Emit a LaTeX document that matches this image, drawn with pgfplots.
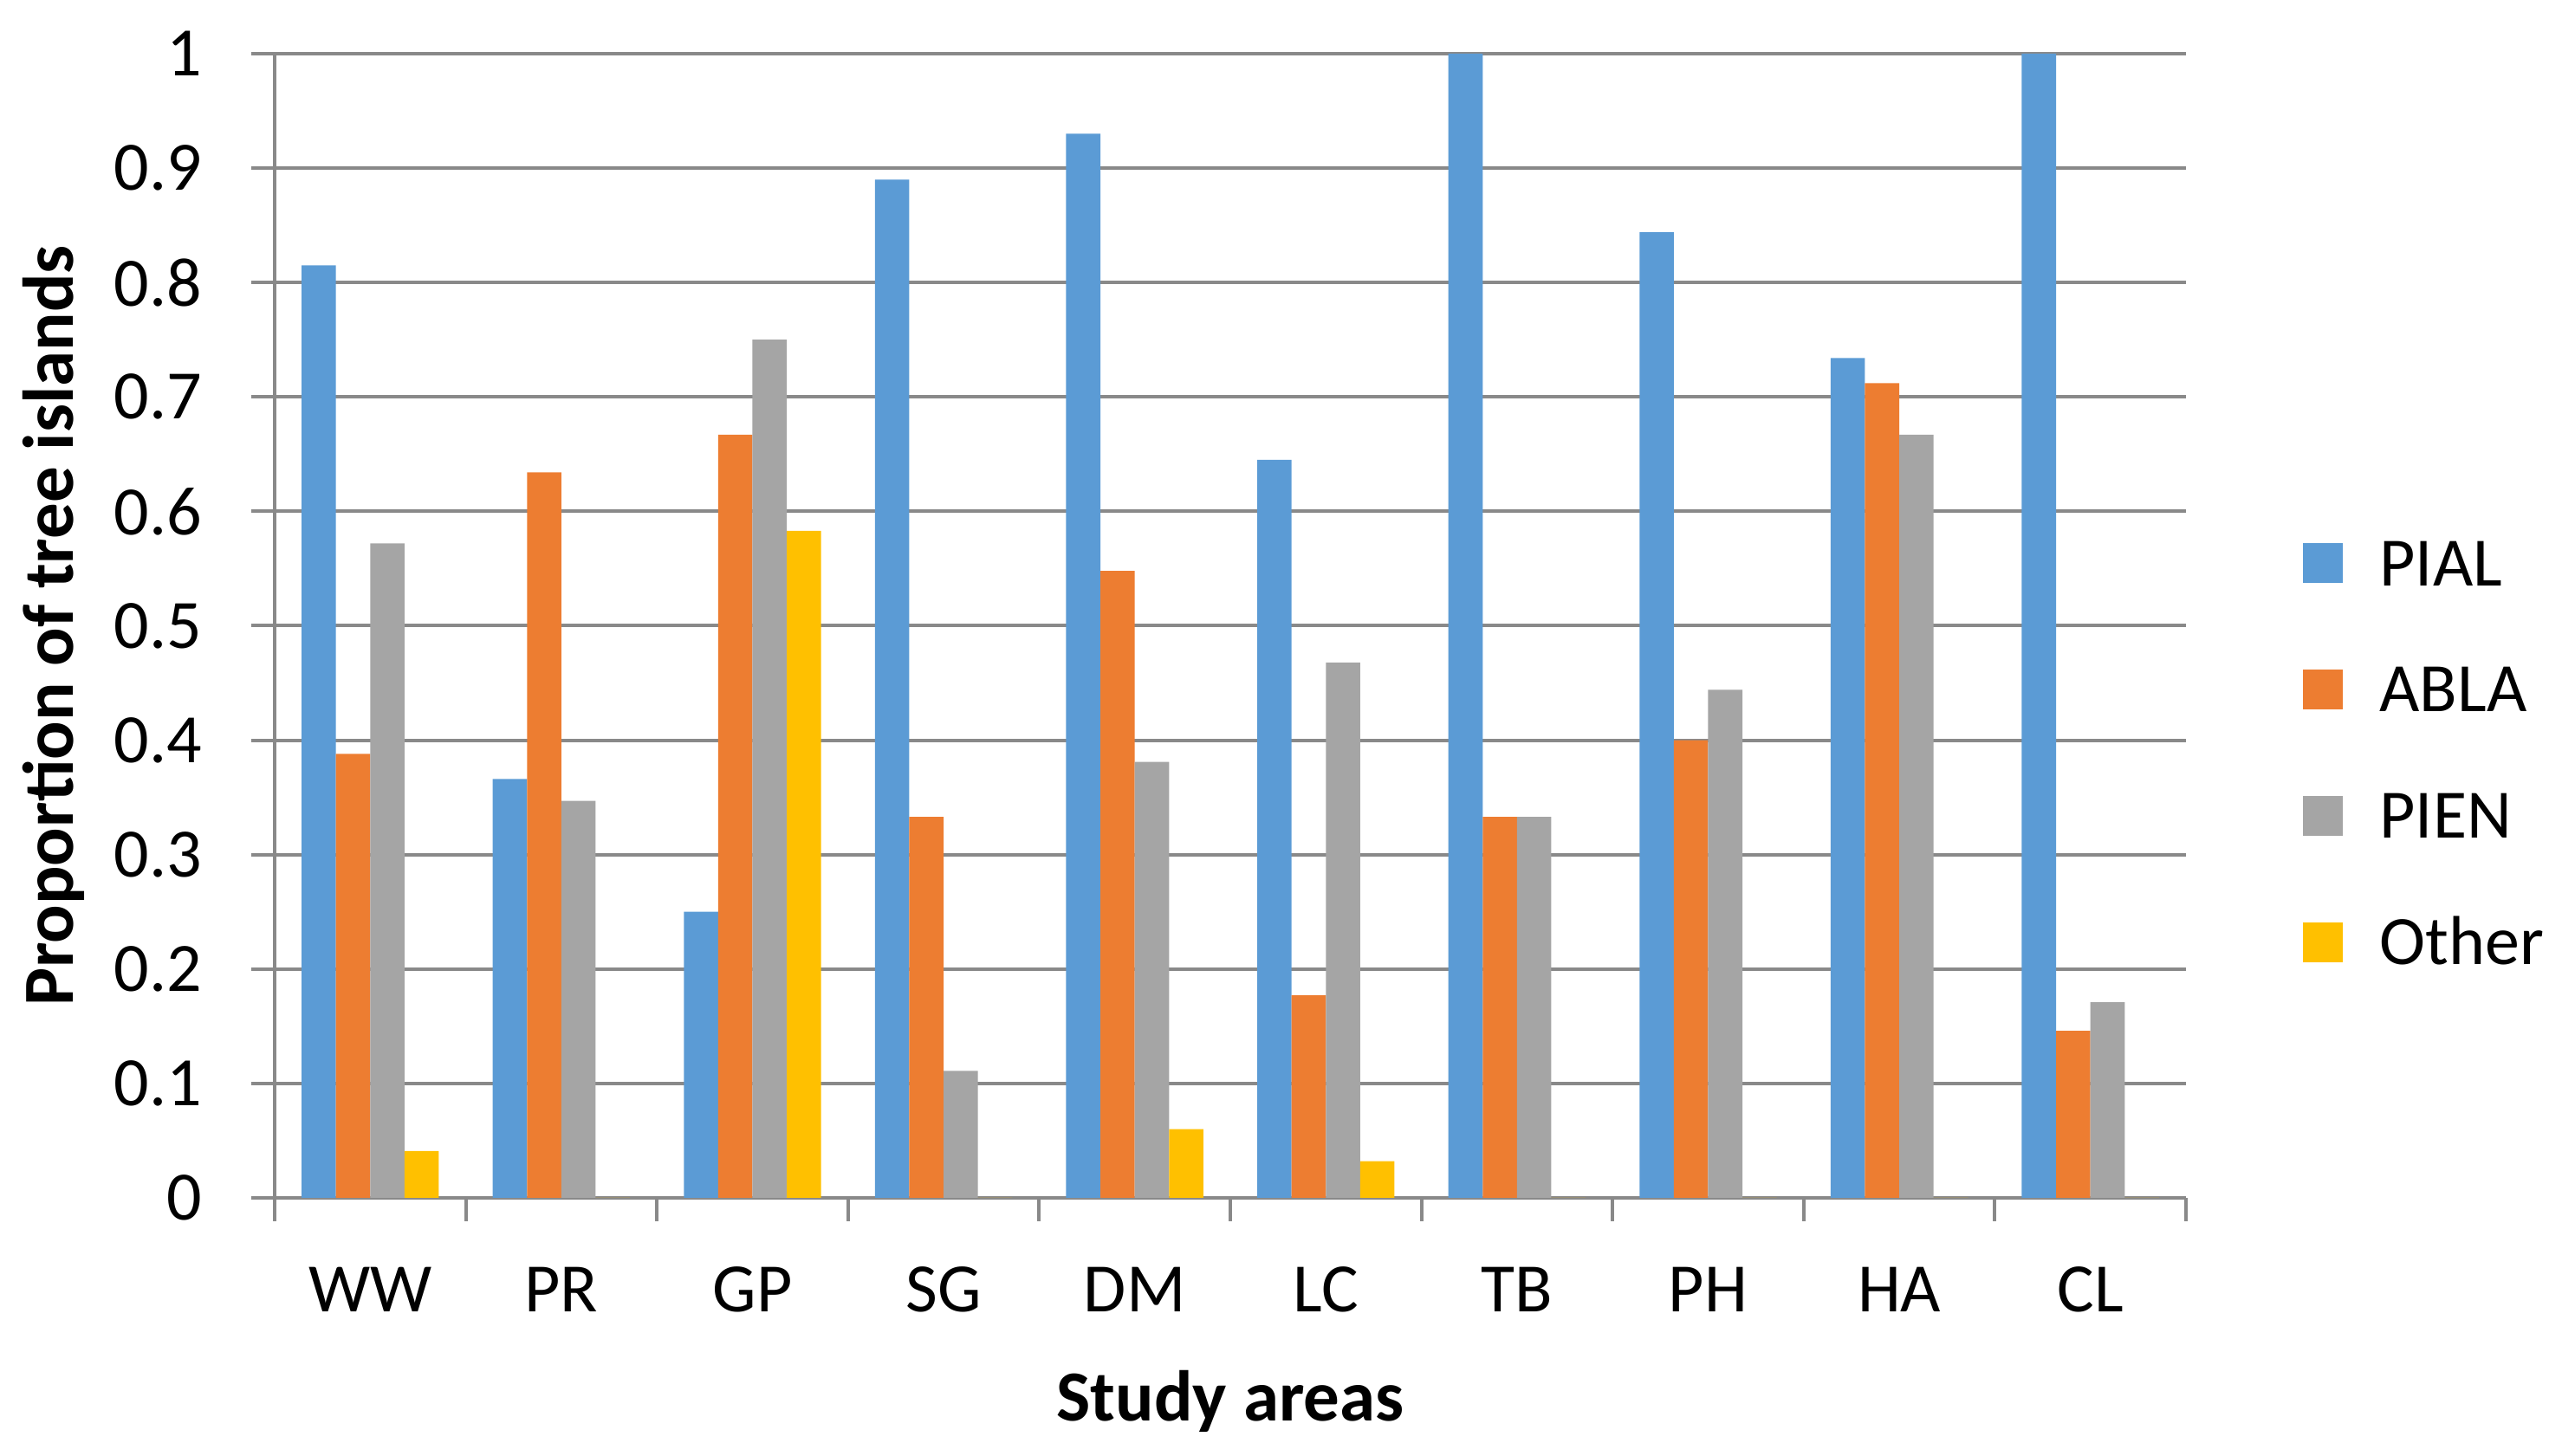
\documentclass[border=0pt]{standalone}
\usepackage{pgfplots}
\pgfplotsset{compat=1.18}
\usepackage{fontspec}
\setmainfont{Carlito}

\definecolor{cPIAL}{HTML}{5B9BD5}
\definecolor{cABLA}{HTML}{ED7D31}
\definecolor{cPIEN}{HTML}{A5A5A5}
\definecolor{cOther}{HTML}{FFC000}
\definecolor{gridgray}{RGB}{137,137,137}

\pgfplotsset{
  sq/.style={draw=none, fill=#1,
    legend image code/.code={\fill[##1] (0pt,-4.95pt) rectangle (9.2pt,4.25pt);}},
}

\begin{document}
\begin{tikzpicture}
\begin{axis}[
    name=ax,
    width=441.2pt, height=264.2pt, scale only axis,
    ybar=0pt, bar width=7.92pt,
    xmin=-0.5, xmax=9.5, ymin=0, ymax=1,
    axis x line=bottom, axis y line=left,
    axis line style={gridgray, line width=0.8pt, -},
    xtick={0,1,2,3,4,5,6,7,8,9},
    xticklabels={WW,PR,GP,SG,DM,LC,TB,PH,HA,CL},
    minor xtick={-0.5,0.5,1.5,2.5,3.5,4.5,5.5,6.5,7.5,8.5,9.5},
    ytick={0,0.1,0.2,0.3,0.4,0.5,0.6,0.7,0.8,0.9,1},
    tick align=outside,
    x tick style={draw=none},
    minor x tick style={draw=gridgray, line width=0.8pt},
    minor tick length=5.4pt,
    y tick style={draw=gridgray, line width=0.8pt},
    major tick length=5.4pt,
    ymajorgrids=true,
    major grid style={gridgray, line width=0.8pt},
    tick label style={font=\fontsize{16}{19}\selectfont, inner sep=0pt},
    /pgf/number format/assume math mode=true,
    xticklabel style={anchor=base, yshift=-20.9pt},
    yticklabel style={anchor=east, xshift=-11.2pt},
    every axis y label/.style={at={(axis description cs:0,0.5)}, xshift=-51pt,
      rotate=90, anchor=center, font=\fontsize{16.6}{20}\selectfont\bfseries},
    every axis x label/.style={at={(axis description cs:0.5,0)}, yshift=-51.6pt,
      anchor=base, font=\fontsize{16.6}{20}\selectfont\bfseries},
    xlabel={Study areas},
    ylabel={Proportion of tree islands},
    legend style={at={(rel axis cs:1.061,0.3904)}, anchor=west,
      draw=none, fill=none, inner sep=0pt, outer sep=0pt,
      font=\fontsize{16}{19}\selectfont, row sep=18.15pt,
      nodes={inner sep=0pt, text height=11pt, text depth=0pt},
      /tikz/every odd column/.append style={column sep=8.6pt}},
    legend cell align=left,
]
\addplot[sq=cPIAL] coordinates {
  (0,0.815) (1,0.366) (2,0.250) (3,0.890) (4,0.930)
  (5,0.645) (6,1.000) (7,0.844) (8,0.734) (9,1.000)};
\addplot[sq=cABLA] coordinates {
  (0,0.388) (1,0.634) (2,0.667) (3,0.333) (4,0.548)
  (5,0.177) (6,0.333) (7,0.400) (8,0.712) (9,0.146)};
\addplot[sq=cPIEN] coordinates {
  (0,0.572) (1,0.347) (2,0.750) (3,0.111) (4,0.381)
  (5,0.468) (6,0.333) (7,0.444) (8,0.667) (9,0.171)};
\addplot[sq=cOther] coordinates {
  (0,0.041) (1,0) (2,0.583) (3,0) (4,0.060)
  (5,0.032) (6,0) (7,0) (8,0) (9,0)};
\legend{PIAL,ABLA,PIEN,Other}
\end{axis}
\pgfresetboundingbox
\path (-63.4pt,-59.6pt) rectangle (528pt,276.6pt);
\end{tikzpicture}
\end{document}
